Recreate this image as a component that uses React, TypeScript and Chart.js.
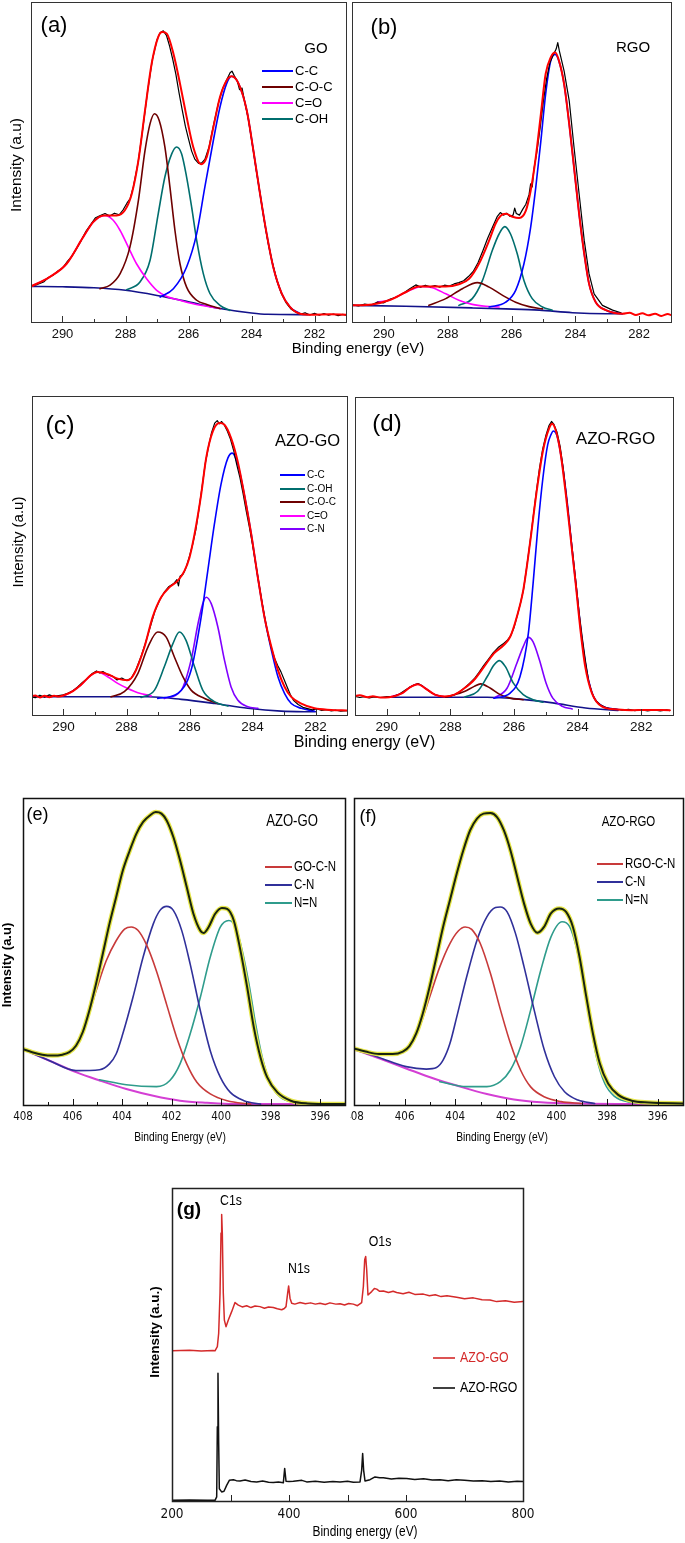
import React, { useEffect, useRef } from 'react';
import { Chart, registerables } from 'chart.js';

Chart.register(...registerables);

type Pt = [number, number];

const SANS = '"Liberation Sans", Arial, sans-serif';
const NARROW = '"Liberation Sans Narrow", "DejaVu Sans Condensed", "Liberation Sans", sans-serif';
const NX = 0.82; // horizontal squeeze used to mimic a narrow face

// ---------- tick labels ----------
const C1S_LABELS = [290, 288, 286, 284, 282];
const N1S_LABELS = [408, 406, 404, 402, 400, 398, 396];
const SURVEY_LABELS = [200, 400, 600, 800];

// ---------- legend names ----------
const GO_NAMES = ['C-C', 'C-O-C', 'C=O', 'C-OH'];
const AZO_NAMES = ['C-C', 'C-OH', 'C-O-C', 'C=O', 'C-N'];
const AZOGO_N_NAMES = ['GO-C-N', 'C-N', 'N=N'];
const AZORGO_N_NAMES = ['RGO-C-N', 'C-N', 'N=N'];
const SURVEY_NAMES = ['AZO-GO', 'AZO-RGO'];

// ---------- (a) GO C1s ----------
const A_FIT: Pt[] = [[291.0,11.1],[290.4,14.1],[289.87,18.2],[289.34,26.6],[289.02,31.3],[288.7,33.3],[288.28,33.3],[288.02,34.9],[287.8,40.1],[287.59,50.5],[287.38,66.1],[287.17,80.7],[286.96,89.1],[286.83,90.6],[286.69,90.1],[286.48,83.9],[286.27,74.5],[286.06,64.1],[285.85,54.7],[285.6,49.3],[285.42,51.6],[285.21,60.9],[285.0,70.3],[284.79,75.5],[284.63,76.8],[284.41,74.5],[284.15,66.1],[283.94,53.6],[283.73,40.1],[283.52,27.6],[283.31,17.2],[283.04,8.9],[282.78,4.7],[282.46,2.6],[282.04,2.3],[281.5,2.4],[281.0,2.3]];
const A_DATA: Pt[] = [[291.0,11.3],[290.8,11.7],[290.6,12.5],[290.45,13.9],[290.3,14.6],[290.15,15.9],[290.0,16.8],[289.85,18.9],[289.7,20.6],[289.55,23.0],[289.4,25.6],[289.25,28.4],[289.1,30.5],[288.95,32.6],[288.8,33.3],[288.65,33.9],[288.5,33.1],[288.35,34.0],[288.2,33.5],[288.08,35.0],[287.95,37.2],[287.85,38.6],[287.75,42.3],[287.6,49.8],[287.45,60.5],[287.3,72.0],[287.15,81.8],[287.0,88.2],[286.9,90.4],[286.8,91.0],[286.7,89.6],[286.6,86.2],[286.5,82.1],[286.4,77.4],[286.3,71.6],[286.2,66.3],[286.1,61.2],[286.0,57.2],[285.9,53.4],[285.8,50.9],[285.68,49.6],[285.58,49.7],[285.48,50.8],[285.35,54.6],[285.2,61.8],[285.05,68.4],[284.92,72.8],[284.8,75.4],[284.68,77.9],[284.62,78.4],[284.55,77.0],[284.45,75.3],[284.38,72.6],[284.3,73.1],[284.22,69.0],[284.1,63.5],[283.98,56.0],[283.85,47.5],[283.72,39.6],[283.6,31.9],[283.48,25.1],[283.35,19.0],[283.2,13.2],[283.05,8.9],[282.9,6.0],[282.75,4.1],[282.6,3.1],[282.45,2.4],[282.3,2.9],[282.15,2.2],[282.0,2.7],[281.85,2.1],[281.7,2.6],[281.55,2.1],[281.4,2.5],[281.25,2.0],[281.1,2.4],[281.0,2.1]];
const A_BASE: Pt[] = [[291.0,11.1],[290.0,11.0],[289.0,10.7],[288.0,9.9],[287.0,8.3],[286.0,6.3],[285.0,4.2],[284.0,2.8],[283.5,2.4],[282.2,2.3]];
const A_CC: Pt[] = [[286.9,7.8],[286.48,10.4],[286.06,17.2],[285.74,27.6],[285.48,42.2],[285.21,56.8],[285.0,67.2],[284.79,74.5],[284.63,76.8],[284.41,74.5],[284.15,66.1],[283.94,53.6],[283.73,40.1],[283.52,27.6],[283.31,17.2],[283.04,8.9],[282.78,4.7],[282.46,2.6]];
const A_COC: Pt[] = [[288.81,10.4],[288.49,11.5],[288.17,15.1],[287.86,23.4],[287.59,38.0],[287.38,53.6],[287.22,62.0],[287.08,65.1],[286.93,63.0],[286.75,54.7],[286.59,42.2],[286.43,28.6],[286.27,18.2],[286.06,10.9],[285.74,6.8],[285.42,5.5],[285.0,4.2]];
const A_CO: Pt[] = [[291.0,11.1],[290.4,14.1],[289.87,18.2],[289.34,26.6],[289.02,31.3],[288.65,33.3],[288.39,31.8],[288.17,28.6],[287.91,23.4],[287.65,18.2],[287.33,13.5],[287.01,9.9],[286.69,8.0],[286.27,6.8],[285.85,5.7],[285.42,4.9],[285.0,4.2]];
const A_COH: Pt[] = [[287.96,10.1],[287.54,12.5],[287.22,19.3],[286.96,33.9],[286.75,45.3],[286.53,52.6],[286.38,54.7],[286.22,52.6],[286.06,45.3],[285.9,35.9],[285.74,25.5],[285.53,15.1],[285.32,8.9],[285.0,5.2],[284.68,3.6]];

// ---------- (b) RGO C1s ----------
const B_FIT: Pt[] = [[291.03,5.2],[290.37,5.5],[289.84,6.8],[289.32,9.3],[288.9,11.1],[288.48,11.1],[288.06,11.1],[287.65,11.8],[287.33,13.5],[287.02,18.2],[286.7,25.5],[286.5,30.7],[286.34,33.2],[286.18,33.8],[285.97,32.9],[285.76,32.5],[285.55,34.8],[285.4,41.0],[285.24,51.4],[285.08,64.9],[284.93,77.5],[284.77,82.7],[284.63,84.2],[284.51,81.6],[284.35,74.3],[284.19,61.8],[284.04,48.3],[283.88,33.8],[283.72,21.3],[283.57,12.0],[283.36,6.2],[283.04,3.7],[282.52,2.6],[282.3,2.9],[282.1,2.2],[281.9,2.7],[281.7,2.1],[281.5,2.6],[281.3,1.9],[281.1,2.5],[281.0,2.2]];
const B_DATA: Pt[] = [[291.0,5.4],[290.8,5.0],[290.6,5.6],[290.4,5.3],[290.2,6.2],[290.0,6.0],[289.8,7.2],[289.6,7.8],[289.4,8.9],[289.2,10.3],[289.0,11.6],[288.85,10.9],[288.7,11.5],[288.55,11.0],[288.4,11.4],[288.25,10.9],[288.1,11.5],[287.95,11.2],[287.8,11.9],[287.65,12.3],[287.5,12.9],[287.35,14.2],[287.2,15.8],[287.05,18.5],[286.9,22.2],[286.75,26.1],[286.6,29.5],[286.45,32.9],[286.35,34.2],[286.25,33.4],[286.15,34.0],[286.05,33.0],[285.95,33.4],[285.9,35.6],[285.85,33.9],[285.75,33.4],[285.65,35.2],[285.55,36.8],[285.45,39.8],[285.4,43.2],[285.35,42.2],[285.3,47.6],[285.2,53.5],[285.1,60.8],[285.0,69.1],[284.9,76.0],[284.8,80.9],[284.7,83.3],[284.6,85.3],[284.55,87.3],[284.5,84.7],[284.35,78.4],[284.19,69.1],[284.04,54.6],[283.88,40.0],[283.72,25.5],[283.57,15.1],[283.41,8.8],[283.15,5.2],[282.83,3.7],[282.57,2.9]];
const B_BASE: Pt[] = [[291.03,5.2],[289.32,4.9],[287.23,4.4],[286.18,4.1],[285.13,3.7],[284.09,2.9],[283.04,2.6],[282.52,2.6]];
const B_CC: Pt[] = [[286.7,4.7],[286.18,6.2],[285.87,9.9],[285.61,18.2],[285.4,29.6],[285.24,42.0],[285.08,56.5],[284.93,71.2],[284.77,81.6],[284.63,83.6],[284.51,81.4],[284.35,74.3],[284.19,61.8],[284.04,48.3],[283.88,33.8],[283.72,21.3],[283.57,12.0],[283.36,6.2],[283.04,3.7],[282.52,2.6]];
const B_COC: Pt[] = [[288.59,5.2],[288.06,7.3],[287.54,10.4],[287.07,12.3],[286.7,10.9],[286.29,8.4],[285.87,6.2],[285.45,4.8],[285.03,4.1]];
const B_CO: Pt[] = [[290.2,6.2],[289.84,6.8],[289.32,9.3],[288.8,11.1],[288.48,10.7],[288.06,8.8],[287.65,6.8],[287.23,5.5],[286.81,4.9],[286.39,4.7]];
const B_COH: Pt[] = [[287.65,5.2],[287.23,7.3],[286.91,13.0],[286.6,22.4],[286.39,27.5],[286.21,29.8],[286.03,27.5],[285.82,21.3],[285.61,13.0],[285.35,7.3],[285.03,4.7],[284.72,3.7]];

// ---------- (c) AZO-GO C1s ----------
const C_FIT: Pt[] = [[291.07,5.7],[290.9,6.1],[290.75,5.5],[290.6,6.0],[290.45,5.6],[290.3,6.0],[290.15,5.8],[289.98,6.2],[289.7,7.5],[289.45,9.4],[289.13,12.5],[288.92,13.5],[288.6,12.8],[288.28,11.4],[287.96,10.9],[287.75,13.0],[287.43,21.3],[287.17,30.7],[286.9,36.9],[286.64,40.0],[286.37,42.1],[286.16,45.2],[286.0,49.4],[285.84,56.7],[285.63,69.1],[285.47,80.6],[285.26,88.9],[285.05,91.5],[284.89,91.0],[284.68,86.8],[284.47,79.5],[284.26,69.1],[284.04,56.7],[283.83,43.1],[283.62,30.7],[283.4,21.3],[283.19,14.0],[282.98,8.8],[282.77,5.7],[282.45,3.6],[282.03,2.1],[281.5,1.6],[281.0,1.4]];
const C_DATA: Pt[] = [[291.07,5.9],[290.9,5.4],[290.75,6.2],[290.6,5.6],[290.45,6.3],[290.3,5.8],[290.15,6.1],[290.0,6.3],[289.85,6.9],[289.7,7.6],[289.55,8.8],[289.4,10.2],[289.25,11.4],[289.1,12.9],[288.95,13.8],[288.85,13.2],[288.75,13.6],[288.6,12.6],[288.45,12.2],[288.3,11.0],[288.15,11.6],[288.0,10.8],[287.85,11.5],[287.7,14.2],[287.55,18.0],[287.4,22.5],[287.25,27.5],[287.1,32.5],[286.95,36.0],[286.8,38.5],[286.65,40.3],[286.5,41.2],[286.4,42.4],[286.35,40.5],[286.3,43.5],[286.2,44.2],[286.1,46.5],[286.0,49.8],[285.9,53.5],[285.8,58.0],[285.7,64.5],[285.6,71.5],[285.5,78.8],[285.4,84.0],[285.3,88.5],[285.2,91.5],[285.12,92.3],[285.05,91.3],[284.98,92.0],[284.9,91.0],[284.8,89.0],[284.7,86.5],[284.6,83.0],[284.5,78.5],[284.4,74.5],[284.3,69.5],[284.2,64.0],[284.1,59.0],[284.0,53.5],[283.9,47.5],[283.8,41.5],[283.7,35.5],[283.6,30.0],[283.5,25.0],[283.4,21.0],[283.3,17.8],[283.2,15.5],[283.1,13.6],[283.0,11.2],[282.9,8.8],[282.8,6.4],[282.7,4.6],[282.55,3.3],[282.4,2.4],[282.25,2.0],[282.1,1.6],[281.95,1.9],[281.8,1.4],[281.65,1.7],[281.5,1.3],[281.35,1.5],[281.2,1.2],[281.0,1.4]];
const C_BASE: Pt[] = [[291.07,5.7],[289.0,5.7],[287.32,5.7],[286.26,4.9],[285.2,3.6],[284.15,2.1],[283.09,1.2],[282.0,1.0]];
const C_CO: Pt[] = [[290.6,5.8],[289.98,6.2],[289.45,9.4],[289.13,12.5],[288.92,13.5],[288.6,12.0],[288.28,9.9],[287.96,8.3],[287.64,7.0],[287.22,6.0]];
const C_COC: Pt[] = [[288.49,5.7],[288.07,7.3],[287.64,13.0],[287.32,21.3],[287.01,26.0],[286.74,24.4],[286.48,18.2],[286.21,12.0],[285.95,7.8],[285.52,5.2],[285.1,3.6]];
const C_COH: Pt[] = [[287.54,5.5],[287.11,7.8],[286.8,15.1],[286.53,22.3],[286.32,26.0],[286.11,23.4],[285.84,15.1],[285.58,7.8],[285.21,4.2],[284.78,2.8]];
const C_CN: Pt[] = [[286.8,5.2],[286.26,7.8],[285.95,17.2],[285.73,28.6],[285.58,34.9],[285.47,36.9],[285.31,34.9],[285.1,27.6],[284.89,17.2],[284.68,8.8],[284.47,4.7],[284.15,2.6],[283.83,2.1]];
const C_CC: Pt[] = [[287.01,5.2],[286.37,6.8],[285.95,14.0],[285.63,30.7],[285.42,45.2],[285.21,59.8],[285.0,72.3],[284.78,80.6],[284.64,82.1],[284.47,78.6],[284.26,69.1],[284.04,56.7],[283.83,43.1],[283.62,30.7],[283.4,20.3],[283.19,11.9],[282.98,6.7],[282.77,3.6],[282.45,2.1],[282.03,1.2]];

// ---------- (d) AZO-RGO C1s ----------
const D_FIT: Pt[] = [[291.1,5.8],[290.85,6.2],[290.6,5.6],[290.44,5.9],[290.2,5.5],[289.93,5.6],[289.51,6.9],[289.26,8.8],[289.02,9.7],[288.79,8.4],[288.49,6.4],[288.18,5.8],[287.87,6.4],[287.56,8.4],[287.25,11.1],[286.94,15.2],[286.63,19.4],[286.32,22.0],[286.12,24.6],[285.91,30.9],[285.71,39.2],[285.5,53.8],[285.3,69.4],[285.09,83.0],[284.89,90.3],[284.8,91.6],[284.68,89.3],[284.53,82.0],[284.37,69.4],[284.22,55.9],[284.06,41.3],[283.91,26.7],[283.76,15.2],[283.55,6.9],[283.24,2.7],[282.73,1.7],[282.3,1.5],[281.8,1.6],[281.1,1.5]];
const D_DATA: Pt[] = [[291.01,5.9],[290.85,5.5],[290.7,5.8],[290.55,5.4],[290.4,5.7],[290.2,5.5],[290.0,5.8],[289.8,5.9],[289.6,6.6],[289.45,7.6],[289.3,8.6],[289.15,9.4],[289.02,9.9],[288.9,9.3],[288.75,8.1],[288.6,7.0],[288.45,6.3],[288.3,5.9],[288.15,5.6],[288.0,5.9],[287.85,6.5],[287.7,7.4],[287.55,8.6],[287.4,9.9],[287.25,11.4],[287.1,13.4],[286.95,15.6],[286.8,17.6],[286.65,19.6],[286.5,21.2],[286.35,22.3],[286.2,23.6],[286.1,25.0],[286.0,27.5],[285.9,31.2],[285.8,35.0],[285.7,39.5],[285.6,46.5],[285.5,54.0],[285.4,62.0],[285.3,70.0],[285.2,77.5],[285.1,83.5],[285.0,87.8],[284.9,91.0],[284.82,92.3],[284.75,91.5],[284.65,89.0],[284.55,84.5],[284.45,77.5],[284.35,68.5],[284.25,59.5],[284.15,50.5],[284.05,41.5],[283.95,32.0],[283.85,24.0],[283.75,16.8],[283.65,10.5],[283.55,7.0],[283.45,4.8],[283.3,3.3],[283.15,2.5],[283.0,2.0],[282.8,1.8],[282.6,1.5],[282.4,1.8],[282.2,1.4],[282.0,1.7],[281.8,1.3],[281.6,1.6],[281.4,1.3],[281.2,1.6],[281.1,1.4]];
const D_BASE: Pt[] = [[289.93,5.6],[286.84,5.6],[285.81,5.0],[284.78,3.8],[283.75,2.2],[282.73,1.4]];
const D_CO: Pt[] = [[289.93,5.6],[289.51,6.9],[289.26,8.8],[289.02,9.7],[288.79,8.4],[288.49,6.4],[288.18,5.7]];
const D_COC: Pt[] = [[288.08,5.8],[287.56,7.4],[287.25,9.0],[287.05,9.8],[286.74,8.4],[286.43,6.4],[286.12,5.3],[285.71,4.8]];
const D_COH: Pt[] = [[287.56,5.6],[287.15,7.4],[286.84,12.1],[286.63,15.7],[286.46,17.1],[286.27,15.2],[286.02,10.0],[285.71,6.4],[285.4,4.8],[285.09,4.0]];
const D_CN: Pt[] = [[286.63,5.3],[286.22,8.4],[285.91,16.3],[285.71,21.5],[285.55,24.4],[285.4,23.0],[285.2,17.3],[284.99,10.0],[284.78,5.3],[284.48,2.7],[284.17,1.9]];
const D_CC: Pt[] = [[286.63,5.3],[286.12,6.9],[285.81,12.1],[285.55,25.6],[285.4,41.3],[285.25,59.0],[285.09,74.6],[284.94,85.0],[284.84,88.1],[284.76,89.3],[284.63,87.2],[284.48,78.8],[284.32,66.3],[284.17,51.7],[284.01,37.1],[283.86,23.6],[283.7,13.1],[283.5,5.8],[283.24,2.9],[282.73,1.7]];

// ---------- (e) AZO-GO N1s ----------
const E_FIT: Pt[] = [[408.03,18.3],[407.63,17.2],[407.22,16.4],[406.81,16.1],[406.41,16.4],[406.13,17.2],[405.86,19.3],[405.59,23.7],[405.32,30.8],[405.05,39.5],[404.78,49.2],[404.51,59.0],[404.24,67.7],[403.97,76.4],[403.69,82.9],[403.42,88.4],[403.15,92.2],[402.88,94.3],[402.64,95.4],[402.41,94.9],[402.2,92.7],[401.93,87.3],[401.66,79.7],[401.39,71.0],[401.12,62.3],[400.84,56.8],[400.71,56.0],[400.51,57.9],[400.24,62.3],[399.97,64.2],[399.76,63.9],[399.49,60.1],[399.22,50.3],[398.95,38.4],[398.68,25.3],[398.41,15.5],[398.14,9.0],[397.73,4.1],[397.19,1.4],[396.51,0.5],[395.43,0.3],[394.95,0.3]];
const E_BASE: Pt[] = [[408.03,18.3],[406.95,14.5],[405.86,10.7],[404.91,8.0],[403.83,5.2],[402.74,3.0],[401.66,1.4],[400.57,0.7],[399.49,0.3],[394.95,0.3]];
const E_GOCN: Pt[] = [[408.03,18.3],[407.22,16.4],[406.41,16.4],[405.86,19.3],[405.46,26.4],[405.05,37.2],[404.64,47.0],[404.24,53.5],[403.9,57.3],[403.63,58.0],[403.36,56.9],[403.02,52.3],[402.61,43.6],[402.2,32.7],[401.8,22.1],[401.39,13.4],[400.98,7.4],[400.44,3.6],[399.76,1.4],[398.81,0.3]];
const E_CN: Pt[] = [[408.03,18.3],[406.95,14.5],[405.86,11.2],[404.91,11.5],[404.51,13.4],[404.24,16.6],[403.97,23.2],[403.56,35.1],[403.15,48.2],[402.74,59.0],[402.47,63.4],[402.2,64.7],[401.93,63.4],[401.59,56.8],[401.25,45.9],[400.84,30.7],[400.44,17.7],[400.03,9.0],[399.63,4.1],[399.08,1.4],[398.41,0.3]];
const E_NN: Pt[] = [[404.91,8.2],[403.83,6.6],[402.61,6.0],[402.07,8.0],[401.66,13.4],[401.25,23.2],[400.84,35.1],[400.44,48.2],[400.03,58.0],[399.69,60.1],[399.42,58.0],[399.15,50.3],[398.88,39.5],[398.61,26.4],[398.34,15.5],[398.0,6.8],[397.6,2.5],[397.05,0.9],[396.0,0.3]];

// ---------- (f) AZO-RGO N1s ----------
const F_FIT: Pt[] = [[408.0,18.4],[407.54,17.4],[407.01,16.6],[406.47,16.6],[406.07,17.4],[405.81,19.2],[405.54,23.3],[405.28,29.8],[405.01,38.5],[404.74,48.3],[404.48,58.0],[404.21,66.7],[403.94,75.4],[403.68,83.0],[403.41,89.5],[403.14,93.3],[402.88,94.9],[402.61,95.1],[402.35,93.8],[402.08,89.5],[401.82,83.0],[401.55,74.3],[401.28,65.6],[401.02,59.1],[400.75,56.1],[400.49,58.0],[400.22,62.4],[399.89,64.0],[399.62,62.9],[399.35,58.0],[399.09,48.3],[398.82,35.2],[398.56,23.3],[398.29,13.6],[397.96,7.0],[397.56,3.3],[397.03,1.4],[396.36,0.8],[394.96,0.5]];
const F_BASE: Pt[] = [[408.0,18.1],[407.01,15.2],[405.94,11.9],[404.88,8.7],[403.81,6.0],[402.75,3.6],[401.68,1.8],[400.62,0.9],[399.29,0.5],[394.96,0.3]];
const F_RGOCN: Pt[] = [[408.0,18.4],[407.01,16.6],[406.47,16.6],[406.07,17.4],[405.74,20.1],[405.41,25.5],[405.01,35.2],[404.61,45.0],[404.21,52.6],[403.88,56.7],[403.61,58.0],[403.35,57.2],[403.01,52.6],[402.61,42.9],[402.21,30.9],[401.82,20.1],[401.42,11.4],[401.02,5.9],[400.49,2.7],[399.82,1.1],[399.02,0.5]];
const F_CN: Pt[] = [[408.0,18.1],[407.01,15.5],[405.94,12.5],[405.14,11.7],[404.74,12.2],[404.48,14.6],[404.21,20.0],[403.94,28.7],[403.55,41.7],[403.14,53.7],[402.75,61.3],[402.41,64.3],[402.22,64.5],[401.95,62.9],[401.62,55.9],[401.28,45.0],[400.88,30.9],[400.48,17.9],[400.08,9.2],[399.68,4.3],[399.15,1.6],[398.49,0.5]];
const F_NN: Pt[] = [[404.61,7.6],[403.55,6.0],[402.75,6.0],[402.22,7.6],[401.82,11.4],[401.42,19.0],[401.02,30.9],[400.62,43.9],[400.22,54.7],[399.78,59.7],[399.48,58.1],[399.22,51.6],[398.95,40.8],[398.68,27.8],[398.42,15.7],[398.09,7.0],[397.69,2.7],[397.16,1.0],[396.0,0.4]];

// ---------- (g) survey ----------
const G_AZOGO: Pt[] = [[200,48.0],[230,48.2],[250,47.9],[270,48.1],[273.5,48.0],[277.5,49.3],[279.8,53.6],[282.1,66.4],[283.8,85.6],[284.9,91.5],[286.0,85.6],[287.7,66.4],[289.5,57.8],[292.3,55.7],[296.3,57.8],[302.0,60.5],[307.7,63.4],[313.4,62.6],[320,62.0],[327.6,62.4],[335,61.8],[342,62.3],[350.4,62.1],[358,61.6],[365,62.0],[373.2,61.8],[380,61.4],[387.5,61.1],[392,61.5],[394.9,62.1],[397.7,66.4],[399.4,68.7],[401.7,64.8],[404.6,63.2],[410,62.9],[418.8,63.4],[428,63.0],[437,63.3],[445,62.9],[453.0,63.2],[462,62.8],[470,63.3],[480,62.9],[487.2,63.0],[495,62.6],[502,63.1],[510.0,62.9],[517,62.4],[524.2,63.4],[527.1,68.5],[529.4,77.1],[531.1,78.1],[532.8,73.9],[535.0,65.8],[541.3,66.9],[546,67.9],[549.9,67.7],[555,67.0],[561.3,67.1],[570,66.6],[578,67.0],[584.0,66.6],[595,66.2],[605,66.7],[615,66.0],[629.6,66.1],[640,65.6],[650,65.9],[660,65.3],[670,65.6],[686.6,65.1],[700,64.6],[715,64.9],[730,64.3],[743.6,64.2],[755,63.7],[770,64.0],[785,63.5],[800,63.7]];
const G_AZORGO: Pt[] = [[200,0.2],[230,0.3],[260,0.2],[273.5,0.2],[276.4,1.3],[277.5,23.7],[278.6,40.8],[279.8,18.4],[280.9,3.9],[284.9,2.9],[288.9,3.1],[293.4,5.0],[298.0,6.6],[304.8,6.8],[310,6.5],[316.2,6.4],[325,6.7],[335,6.2],[344.7,6.1],[355,6.4],[365,6.0],[373.2,5.9],[382,6.1],[390.3,5.8],[392.6,10.4],[394.9,6.3],[400,6.2],[407.4,6.3],[415,6.5],[422,6.6],[430.2,6.1],[445,6.3],[460,6.0],[475,6.2],[487.2,6.1],[500,6.3],[510,6.0],[521.4,6.1],[524.2,9.8],[525.9,15.2],[527.6,9.8],[529.9,6.4],[538.5,6.8],[547.0,7.7],[555,7.4],[561.3,7.4],[575,7.0],[588,7.3],[601.1,7.2],[615,6.9],[630,7.1],[645,6.7],[658.1,6.8],[672,6.5],[686,6.8],[700,6.6],[715.1,6.4],[730,6.5],[745,6.2],[760,6.4],[775,6.1],[790,6.3],[800,6.2]];

// ---------- colours ----------
const COL = {
  fit: '#ff0000', data: '#000000', cc: '#0000ff', coc: '#6e0000', co: '#ff00ff', coh: '#006e6e',
  cn: '#8000ff', base: '#12128a',
  nRed: '#c83a3a', nBlue: '#30309a', nTeal: '#2f9c8c', nBase: '#d43fd4', nYellow: '#e6e64a', nBlack: '#18240f',
  gRed: '#d42a2a', gBlack: '#111111',
};

interface Series { data: Pt[]; color: string; width: number; order: number; smooth?: boolean }
interface Txt { text: string; x: number; y: number; font: string; color?: string; align?: CanvasTextAlign; rot?: number; sx?: number }
interface LegItem { label: string; color: string; textColor?: string }
interface Leg { x1: number; x2: number; tx: number; ys: number[]; font: string; width: number; sx?: number; items: LegItem[] }
interface Spec {
  id: string;
  box: { left: number; top: number; w: number; h: number };
  frame: { L: number; T: number; R: number; B: number };
  x: { min: number; max: number; reverse: boolean; step: number; labels: number[]; font: any; pad: number; major: number; minor: number };
  frameColor: string;
  frameWidth: number;
  series: Series[];
  texts: Txt[];
  legend?: Leg;
}

const ROT = -Math.PI / 2;

function makeDeco(s: Spec) {
  return {
    id: 'deco_' + s.id,
    afterDatasetsDraw(chart: any) {
      const ctx = chart.ctx as CanvasRenderingContext2D;
      const ca = chart.chartArea;
      const ox = s.box.left;
      const oy = s.box.top;
      ctx.save();
      const xs = chart.scales.x;
      ctx.strokeStyle = s.frameColor;
      ctx.lineWidth = 1;
      ctx.beginPath();
      xs.ticks.forEach((t: any, i: number) => {
        const px = Math.round(xs.getPixelForTick(i)) + 0.5;
        const major = s.x.labels.some((l) => Math.abs(l - t.value) < 1e-6);
        const len = major ? s.x.major : s.x.minor;
        ctx.moveTo(px, ca.bottom);
        ctx.lineTo(px, ca.bottom - len);
      });
      ctx.stroke();
      ctx.lineWidth = s.frameWidth;
      ctx.strokeRect(ca.left + 0.5, ca.top + 0.5, ca.right - ca.left, ca.bottom - ca.top);
      for (const t of s.texts) {
        ctx.save();
        ctx.font = t.font;
        ctx.fillStyle = t.color || '#000';
        ctx.textAlign = t.align || 'center';
        ctx.textBaseline = 'middle';
        ctx.translate(t.x - ox, t.y - oy);
        if (t.rot) ctx.rotate(t.rot);
        if (t.sx) ctx.scale(t.sx, 1);
        ctx.fillText(t.text, 0, 0);
        ctx.restore();
      }
      const lg = s.legend;
      if (lg) {
        lg.items.forEach((it, i) => {
          const y = lg.ys[i] - oy;
          ctx.strokeStyle = it.color;
          ctx.lineWidth = lg.width;
          ctx.beginPath();
          ctx.moveTo(lg.x1 - ox, y);
          ctx.lineTo(lg.x2 - ox, y);
          ctx.stroke();
          ctx.save();
          ctx.font = lg.font;
          ctx.fillStyle = it.textColor || '#000';
          ctx.textAlign = 'left';
          ctx.textBaseline = 'middle';
          ctx.translate(lg.tx - ox, y);
          if (lg.sx) ctx.scale(lg.sx, 1);
          ctx.fillText(it.label, 0, 0);
          ctx.restore();
        });
      }
      ctx.restore();
    },
  };
}

function Panel({ s }: { s: Spec }) {
  const ref = useRef<HTMLCanvasElement | null>(null);
  useEffect(() => {
    if (!ref.current) return;
    const chart = new Chart(ref.current, {
      type: 'line',
      data: {
        datasets: s.series.map((d) => ({
          data: d.data as any,
          borderColor: d.color,
          borderWidth: d.width,
          pointRadius: 0,
          fill: false,
          order: d.order,
          tension: 0,
          cubicInterpolationMode: d.smooth ? 'monotone' : 'default',
          borderJoinStyle: 'round',
          borderCapStyle: 'round',
        })) as any,
      },
      options: {
        responsive: false,
        animation: false,
        events: [],
        layout: {
          padding: {
            left: s.frame.L - s.box.left,
            top: s.frame.T - s.box.top,
            right: s.box.left + s.box.w - s.frame.R,
            bottom: 0,
          },
        },
        plugins: { legend: { display: false }, tooltip: { enabled: false } },
        scales: {
          x: {
            type: 'linear',
            min: s.x.min,
            max: s.x.max,
            reverse: s.x.reverse,
            grid: { display: false, drawTicks: false },
            border: { display: false },
            ticks: {
              stepSize: s.x.step,
              autoSkip: false,
              maxRotation: 0,
              minRotation: 0,
              includeBounds: false,
              padding: s.x.pad,
              font: s.x.font,
              color: '#111',
              callback: (v: any) => (s.x.labels.some((l) => Math.abs(l - Number(v)) < 1e-6) ? String(Math.round(Number(v))) : ''),
            },
            afterFit: (sc: any) => {
              sc.height = s.box.top + s.box.h - s.frame.B;
              sc.paddingLeft = 0;
              sc.paddingRight = 0;
            },
          },
          y: { type: 'linear', display: false, min: 0, max: 100 },
        },
      } as any,
      plugins: [makeDeco(s)],
    });
    return () => chart.destroy();
  }, [s]);
  return (
    <canvas
      ref={ref}
      width={s.box.w}
      height={s.box.h}
      style={{ position: 'absolute', left: s.box.left, top: s.box.top, width: s.box.w, height: s.box.h }}
    />
  );
}

const c1sX = (size: number) => ({ min: 281, max: 291, reverse: true, step: 1, labels: C1S_LABELS, font: { family: SANS, size }, pad: 4.5, major: 6, minor: 3 });
const n1sX = { min: 395, max: 408, reverse: true, step: 1, labels: N1S_LABELS, font: { family: NARROW, size: 11.5 }, pad: 5, major: 6, minor: 3 };

const goLegendColors = [COL.cc, COL.coc, COL.co, COL.coh];
const azoLegendColors = [COL.cc, COL.coh, COL.coc, COL.co, COL.cn];
const nLegendColors = [COL.nRed, COL.nBlue, COL.nTeal];

const SPEC_A: Spec = {
  id: 'a',
  box: { left: 0, top: 0, w: 440, h: 362 },
  frame: { L: 31, T: 2, R: 346, B: 322 },
  x: c1sX(13),
  frameColor: '#333',
  frameWidth: 1,
  series: [
    { data: A_FIT, color: COL.fit, width: 2, order: 0, smooth: true },
    { data: A_DATA, color: COL.data, width: 1.2, order: 1 },
    { data: A_CC, color: COL.cc, width: 1.6, order: 2, smooth: true },
    { data: A_COC, color: COL.coc, width: 1.6, order: 2, smooth: true },
    { data: A_CO, color: COL.co, width: 1.6, order: 2, smooth: true },
    { data: A_COH, color: COL.coh, width: 1.6, order: 2, smooth: true },
    { data: A_BASE, color: COL.base, width: 1.6, order: 3, smooth: true },
  ],
  texts: [
    { text: '(a)', x: 54, y: 26, font: `22px ${SANS}` },
    { text: 'GO', x: 316, y: 49, font: `15px ${SANS}` },
    { text: 'Intensity (a.u)', x: 17, y: 165, font: `15.5px ${SANS}`, rot: ROT },
    { text: 'Binding energy (eV)', x: 358, y: 349, font: `15px ${SANS}` },
  ],
  legend: { x1: 262, x2: 293, tx: 295, ys: [71, 87, 103, 119], font: `13px ${SANS}`, width: 2, items: GO_NAMES.map((n, i) => ({ label: n, color: goLegendColors[i] })) },
};

const SPEC_B: Spec = {
  id: 'b',
  box: { left: 345, top: 0, w: 340, h: 345 },
  frame: { L: 352, T: 2, R: 671, B: 322 },
  x: c1sX(13),
  frameColor: '#333',
  frameWidth: 1,
  series: [
    { data: B_FIT, color: COL.fit, width: 2, order: 0, smooth: true },
    { data: B_DATA, color: COL.data, width: 1.2, order: 1 },
    { data: B_CC, color: COL.cc, width: 1.6, order: 2, smooth: true },
    { data: B_COC, color: COL.coc, width: 1.6, order: 2, smooth: true },
    { data: B_CO, color: COL.co, width: 1.6, order: 2, smooth: true },
    { data: B_COH, color: COL.coh, width: 1.6, order: 2, smooth: true },
    { data: B_BASE, color: COL.base, width: 1.6, order: 3, smooth: true },
  ],
  texts: [
    { text: '(b)', x: 384, y: 28, font: `22px ${SANS}` },
    { text: 'RGO', x: 633, y: 48, font: `15px ${SANS}` },
  ],
};

const SPEC_C: Spec = {
  id: 'c',
  box: { left: 0, top: 385, w: 450, h: 375 },
  frame: { L: 32, T: 396, R: 347, B: 715 },
  x: c1sX(13.5),
  frameColor: '#333',
  frameWidth: 1,
  series: [
    { data: C_FIT, color: COL.fit, width: 2, order: 0, smooth: true },
    { data: C_DATA, color: COL.data, width: 1.2, order: 1 },
    { data: C_CC, color: COL.cc, width: 1.6, order: 2, smooth: true },
    { data: C_COH, color: COL.coh, width: 1.6, order: 2, smooth: true },
    { data: C_COC, color: COL.coc, width: 1.6, order: 2, smooth: true },
    { data: C_CO, color: COL.co, width: 1.6, order: 2, smooth: true },
    { data: C_CN, color: COL.cn, width: 1.6, order: 2, smooth: true },
    { data: C_BASE, color: COL.base, width: 1.6, order: 3, smooth: true },
  ],
  texts: [
    { text: '(c)', x: 60, y: 427, font: `25px ${SANS}` },
    { text: 'AZO-GO', x: 275, y: 441, font: `16.5px ${SANS}`, align: 'left' },
    { text: 'Intensity (a.u)', x: 18.5, y: 542, font: `15px ${SANS}`, rot: ROT },
    { text: 'Binding energy (eV)', x: 364.5, y: 743, font: `16px ${SANS}` },
  ],
  legend: { x1: 280, x2: 305, tx: 307, ys: [475, 489, 502, 516, 529], font: `10px ${SANS}`, width: 2, items: AZO_NAMES.map((n, i) => ({ label: n, color: azoLegendColors[i] })) },
};

const SPEC_D: Spec = {
  id: 'd',
  box: { left: 348, top: 385, w: 337, h: 360 },
  frame: { L: 355, T: 397, R: 673, B: 715 },
  x: c1sX(13.5),
  frameColor: '#333',
  frameWidth: 1,
  series: [
    { data: D_FIT, color: COL.fit, width: 2, order: 0, smooth: true },
    { data: D_DATA, color: COL.data, width: 1.2, order: 1 },
    { data: D_CC, color: COL.cc, width: 1.6, order: 2, smooth: true },
    { data: D_COH, color: COL.coh, width: 1.6, order: 2, smooth: true },
    { data: D_COC, color: COL.coc, width: 1.6, order: 2, smooth: true },
    { data: D_CO, color: COL.co, width: 1.6, order: 2, smooth: true },
    { data: D_CN, color: COL.cn, width: 1.6, order: 2, smooth: true },
    { data: D_BASE, color: COL.base, width: 1.6, order: 3, smooth: true },
  ],
  texts: [
    { text: '(d)', x: 387, y: 424, font: `24px ${SANS}` },
    { text: 'AZO-RGO', x: 615.5, y: 439, font: `17px ${SANS}` },
  ],
};

const SPEC_E: Spec = {
  id: 'e',
  box: { left: 0, top: 785, w: 350, h: 370 },
  frame: { L: 23, T: 798, R: 345, B: 1105 },
  x: n1sX,
  frameColor: '#111',
  frameWidth: 1.5,
  series: [
    { data: E_FIT, color: COL.nBlack, width: 2, order: 0, smooth: true },
    { data: E_FIT, color: COL.nYellow, width: 4.5, order: 1, smooth: true },
    { data: E_GOCN, color: COL.nRed, width: 1.6, order: 2, smooth: true },
    { data: E_CN, color: COL.nBlue, width: 1.6, order: 2, smooth: true },
    { data: E_NN, color: COL.nTeal, width: 1.6, order: 2, smooth: true },
    { data: E_BASE, color: COL.nBase, width: 2, order: 3, smooth: true },
  ],
  texts: [
    { text: '(e)', x: 37.5, y: 815, font: `18px ${SANS}` },
    { text: 'AZO-GO', x: 292, y: 822, font: `16px ${SANS}`, sx: NX },
    { text: 'Intensity (a.u)', x: 7.5, y: 965, font: `bold 13px ${SANS}`, rot: ROT },
    { text: 'Binding Energy (eV)', x: 180, y: 1138, font: `12.5px ${SANS}`, sx: NX },
  ],
  legend: { x1: 265, x2: 292, tx: 294, ys: [867, 885, 903], font: `14px ${SANS}`, sx: NX, width: 2, items: AZOGO_N_NAMES.map((n, i) => ({ label: n, color: nLegendColors[i] })) },
};

const SPEC_F: Spec = {
  id: 'f',
  box: { left: 350, top: 785, w: 335, h: 370 },
  frame: { L: 354, T: 798, R: 683, B: 1105 },
  x: n1sX,
  frameColor: '#111',
  frameWidth: 1.5,
  series: [
    { data: F_FIT, color: COL.nBlack, width: 2, order: 0, smooth: true },
    { data: F_FIT, color: COL.nYellow, width: 4.5, order: 1, smooth: true },
    { data: F_RGOCN, color: COL.nRed, width: 1.6, order: 2, smooth: true },
    { data: F_CN, color: COL.nBlue, width: 1.6, order: 2, smooth: true },
    { data: F_NN, color: COL.nTeal, width: 1.6, order: 2, smooth: true },
    { data: F_BASE, color: COL.nBase, width: 2, order: 3, smooth: true },
  ],
  texts: [
    { text: '(f)', x: 368, y: 817, font: `18px ${SANS}` },
    { text: 'AZO-RGO', x: 628.5, y: 822, font: `14px ${SANS}`, sx: NX },
    { text: 'Binding Energy (eV)', x: 502, y: 1138, font: `12.5px ${SANS}`, sx: NX },
  ],
  legend: { x1: 597, x2: 623, tx: 625, ys: [864, 882, 900], font: `14px ${SANS}`, sx: NX, width: 2, items: AZORGO_N_NAMES.map((n, i) => ({ label: n, color: nLegendColors[i] })) },
};

const SPEC_G: Spec = {
  id: 'g',
  box: { left: 130, top: 1175, w: 440, h: 368 },
  frame: { L: 172, T: 1188, R: 523, B: 1501 },
  x: { min: 200, max: 800, reverse: false, step: 100, labels: SURVEY_LABELS, font: { family: NARROW, size: 13.5 }, pad: 5.5, major: 6, minor: 6 },
  frameColor: '#222',
  frameWidth: 1.5,
  series: [
    { data: G_AZOGO, color: COL.gRed, width: 1.5, order: 0 },
    { data: G_AZORGO, color: COL.gBlack, width: 1.5, order: 1 },
  ],
  texts: [
    { text: '(g)', x: 189, y: 1210, font: `bold 19px ${SANS}` },
    { text: 'C1s', x: 231, y: 1201, font: `15px ${SANS}`, sx: NX },
    { text: 'N1s', x: 299, y: 1269, font: `15px ${SANS}`, sx: NX },
    { text: 'O1s', x: 380, y: 1242, font: `15px ${SANS}`, sx: NX },
    { text: 'Intensity (a.u.)', x: 155, y: 1332, font: `bold 13.5px ${SANS}`, rot: ROT },
    { text: 'Binding energy (eV)', x: 365, y: 1532, font: `14.5px ${SANS}`, sx: NX },
  ],
  legend: {
    x1: 433, x2: 455, tx: 460, ys: [1358, 1388], font: `15px ${SANS}`, sx: NX, width: 1.6,
    items: [
      { label: SURVEY_NAMES[0], color: COL.gRed, textColor: COL.gRed },
      { label: SURVEY_NAMES[1], color: COL.gBlack },
    ],
  },
};

const SPECS = [SPEC_A, SPEC_B, SPEC_C, SPEC_D, SPEC_E, SPEC_F, SPEC_G];

export default function App() {
  return (
    <div style={{ position: 'absolute', left: 0, top: 0, width: 685, height: 1543, background: '#fff', overflow: 'hidden' }}>
      {SPECS.map((s) => (
        <Panel key={s.id} s={s} />
      ))}
    </div>
  );
}
